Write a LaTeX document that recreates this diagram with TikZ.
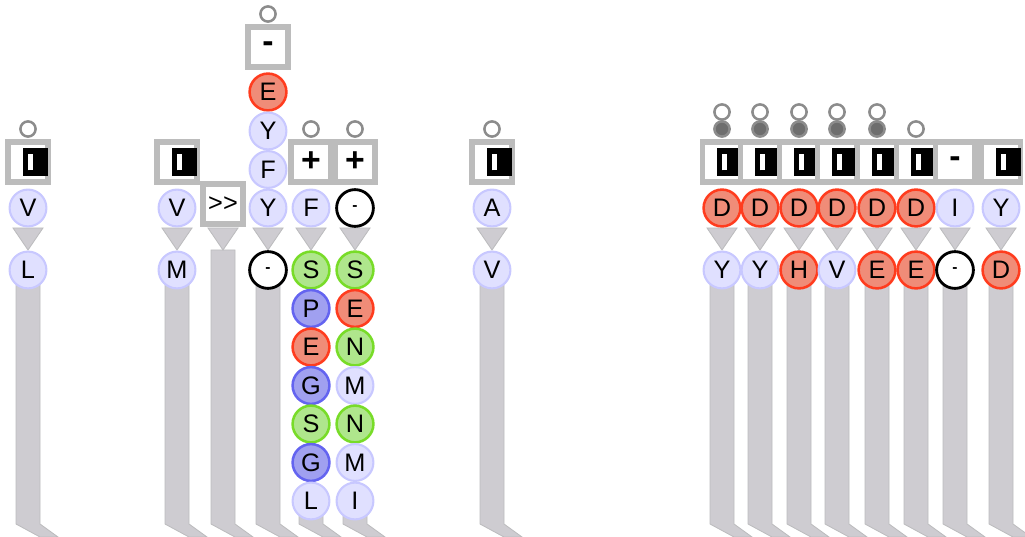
\documentclass[tikz,border=0pt]{standalone}
\usepackage{fontspec}
\setmainfont{Liberation Sans}
\usetikzlibrary{calc}
\pgfdeclarelayer{back}
\pgfsetlayers{back,main}
\definecolor{lavfill}{RGB}{224,224,255}
\definecolor{lavline}{RGB}{200,200,255}
\definecolor{redfill}{RGB}{240,140,120}
\definecolor{redline}{RGB}{255,60,30}
\definecolor{greenfill}{RGB}{175,230,140}
\definecolor{greenline}{RGB}{120,220,40}
\definecolor{bluefill}{RGB}{160,160,240}
\definecolor{blueline}{RGB}{100,100,240}
\definecolor{boxgray}{RGB}{188,188,188}
\definecolor{stemfill}{RGB}{206,204,209}
\definecolor{stemline}{RGB}{188,188,190}
\definecolor{knobline}{RGB}{140,140,140}
\definecolor{knobdark}{RGB}{110,110,110}
\newcommand{\keyglyph}{\rlap{\rule{0.62cm}{0.68cm}}\hspace{0.13cm}{\color{white}\raisebox{0.13cm}{\rule{0.12cm}{0.42cm}}}\hspace{0.37cm}}
\newcommand{\stembar}[1]{%
  \coordinate (sl) at ($(#1)+(-12,0)$);
  \coordinate (sr) at ($(#1)+(12,0)$);
  \coordinate (sf) at ($(#1)+(30,0)$);
  \path[stem] (sl) -- (sr) -- (sr |- floor) -- (sf |- edge) -- (sr |- edge) -- (sl |- floor) -- cycle;}
\newcommand{\funnel}[2]{\path[stem] ($(#1)+(-15,20)$) -- ($(#1)+(15,20)$) -- ($(#2)+(0,-20)$) -- cycle;}

\begin{document}
\begin{tikzpicture}[
      x=0.025cm, y=-0.025cm,
      res/.style={circle, draw, line width=1.8pt, minimum size=0.92cm, inner sep=0pt, font=\fontsize{18}{20}\selectfont},
      plain/.style={res, draw=lavline, fill=lavfill, line width=1.5pt},
      acid/.style={res, draw=redline, fill=redfill},
      polar/.style={res, draw=greenline, fill=greenfill},
      basic/.style={res, draw=blueline, fill=bluefill},
      gapres/.style={res, draw=black, fill=white, line width=2pt, font=\bfseries\fontsize{11}{12}\selectfont},
      opbox/.style={rectangle, draw=boxgray, line width=3.6pt, fill=white, minimum width=1cm, minimum height=1cm, inner sep=0pt, font=\bfseries\fontsize{24}{26}\selectfont},
      cellbox/.style={opbox, minimum width=0.975cm},
      knob/.style={circle, draw=knobline, line width=1.8pt, fill=white, minimum size=0.38cm, inner sep=0pt},
      darkknob/.style={knob, fill=knobdark},
      stem/.style={fill=stemfill, draw=stemline, line width=0.6pt}
    ]
    \useasboundingbox (0,0) rectangle (1025,537);
    \coordinate (floor) at (0,524);
    \coordinate (edge) at (0,537);

    \node[knob] (k1) at (28,129) {};
    \node[opbox] (b1) at (28,162) {\keyglyph};
    \node[plain] (a1) at (28,208) {V};
    \node[plain] (a2) at (28,270) {L};

    \node[opbox] (b2) at (177,162) {\keyglyph};
    \node[plain] (c1) at (177,208) {V};
    \node[plain] (c2) at (177,270) {M};

    \node[opbox, font=\fontsize{18}{20}\selectfont] (b3) at (223,204) {{>}{>}};
    \coordinate (z3) at (223,250);

    \node[knob] (k4) at (268,14) {};
    \node[opbox] (b4) at (268,47) {-};
    \node[acid] (d1) at (268,92) {E};
    \node[plain] (d2) at (268,131) {Y};
    \node[plain] (d3) at (268,169.5) {F};
    \node[plain] (d4) at (268,208) {Y};
    \node[gapres] (d5) at (268,270) {-};

    \node[knob] (k5) at (311,129) {};
    \node[opbox] (b5) at (311,162) {+};
    \node[plain] (e1) at (311,208) {F};
    \node[polar] (e2) at (311,270) {S};
    \node[basic] (e3) at (311,308.5) {P};
    \node[acid] (e4) at (311,347) {E};
    \node[basic] (e5) at (311,385.5) {G};
    \node[polar] (e6) at (311,424) {S};
    \node[basic] (e7) at (311,462.5) {G};
    \node[plain] (e8) at (311,501) {L};

    \node[knob] (k6) at (355,129) {};
    \node[opbox] (b6) at (355,162) {+};
    \node[gapres] (f1) at (355,208) {-};
    \node[polar] (f2) at (355,270) {S};
    \node[acid] (f3) at (355,308.5) {E};
    \node[polar] (f4) at (355,347) {N};
    \node[plain] (f5) at (355,385.5) {M};
    \node[polar] (f6) at (355,424) {N};
    \node[plain] (f7) at (355,462.5) {M};
    \node[plain] (f8) at (355,501) {I};

    \node[knob] (k7) at (492,129) {};
    \node[opbox] (b7) at (492,162) {\keyglyph};
    \node[plain] (g1) at (492,208) {A};
    \node[plain] (g2) at (492,270) {V};

    \node[knob] (u1) at (722,112) {};
    \node[knob] (u2) at (760,112) {};
    \node[knob] (u3) at (799,112) {};
    \node[knob] (u4) at (837,112) {};
    \node[knob] (u5) at (877,112) {};
    \node[darkknob] (w1) at (722,129) {};
    \node[darkknob] (w2) at (760,129) {};
    \node[darkknob] (w3) at (799,129) {};
    \node[darkknob] (w4) at (837,129) {};
    \node[darkknob] (w5) at (877,129) {};
    \node[knob] (w6) at (916,129) {};

    \node[cellbox] (s1) at (722,162) {\keyglyph};
    \node[cellbox] (s2) at (760,162) {\keyglyph};
    \node[cellbox] (s3) at (799,162) {\keyglyph};
    \node[cellbox] (s4) at (837,162) {\keyglyph};
    \node[cellbox] (s5) at (877,162) {\keyglyph};
    \node[cellbox] (s6) at (916,162) {\keyglyph};
    \node[cellbox] (s7) at (955,162) {-};
    \node[cellbox] (s8) at (1001,162) {\keyglyph};

    \node[acid] (m1) at (722,208) {D};
    \node[acid] (m2) at (760,208) {D};
    \node[acid] (m3) at (799,208) {D};
    \node[acid] (m4) at (837,208) {D};
    \node[acid] (m5) at (877,208) {D};
    \node[acid] (m6) at (916,208) {D};
    \node[plain] (m7) at (955,208) {I};
    \node[plain] (m8) at (1001,208) {Y};

    \node[plain] (n1) at (722,270) {Y};
    \node[plain] (n2) at (760,270) {Y};
    \node[acid] (n3) at (799,270) {H};
    \node[plain] (n4) at (837,270) {V};
    \node[acid] (n5) at (877,270) {E};
    \node[acid] (n6) at (916,270) {E};
    \node[gapres] (n7) at (955,270) {-};
    \node[acid] (n8) at (1001,270) {D};

    \begin{pgfonlayer}{back}
      \fill[boxgray] (s1.north west) rectangle (s8.south east);
      \foreach \n in {a2, c2, z3, d5, e8, f8, g2, n1, n2, n3, n4, n5, n6, n7, n8}
        {\stembar{\n}}
      \foreach \u/\w in {a1/a2, c1/c2, d4/d5, e1/e2, f1/f2, g1/g2, m1/n1, m2/n2, m3/n3, m4/n4, m5/n5, m6/n6, m7/n7, m8/n8}
        {\funnel{\u}{\w}}
      \path[stem] ($(b3)+(-15,24)$) -- ($(b3)+(15,24)$) -- (z3) -- cycle;
    \end{pgfonlayer}
  \end{tikzpicture}
\end{document}
